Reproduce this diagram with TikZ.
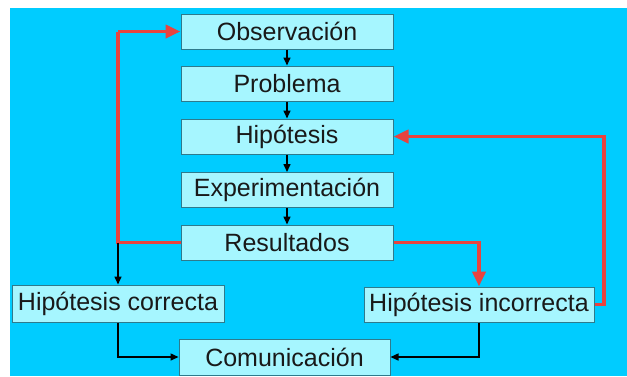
\documentclass[tikz,border=0pt]{standalone}
\usepackage{fontspec}
\setmainfont{Liberation Sans}
\usetikzlibrary{arrows.meta}
\definecolor{bg}{HTML}{00CCFF}
\definecolor{boxfill}{HTML}{A6F6FF}
\definecolor{boxline}{HTML}{2E7A8C}
\definecolor{redline}{HTML}{E8433F}
\begin{document}
\begin{tikzpicture}[x=1pt,y=-1pt,
  stepbox/.style={draw=boxline, line width=1pt, fill=boxfill, minimum width=212pt, minimum height=35pt, inner sep=0pt, font=\fontsize{25}{28}\selectfont, text=black!90},
  blk/.style={line width=1.5pt, draw=black, -{Triangle[length=8pt,width=7pt]}},
  redarrow/.style={line width=3.8pt, draw=redline, -{Triangle[length=15pt,width=13pt]}},
  redpath/.style={line width=3.8pt, draw=redline}]
\useasboundingbox (0,0) rectangle (627,376);
\fill[white] (0,0) rectangle (627,376);
\fill[bg] (10,8) rectangle (627,376);
\node[stepbox] (obs) at (287,31.5) {Observación};
\node[stepbox] (prob) at (287,83.5) {Problema};
\node[stepbox] (hip) at (287,136.5) {Hipótesis};
\node[stepbox] (exp) at (287,190) {Experimentación};
\node[stepbox] (res) at (287,242.5) {Resultados};
\node[stepbox, minimum height=37pt] (hc) at (118,303.5) {Hipótesis correcta};
\node[stepbox, minimum width=230pt] (hi) at (479,304.5) {Hipótesis incorrecta};
\node[stepbox, minimum width=211pt, minimum height=36pt] (com) at (284.5,357) {Comunicación};
\coordinate (L) at (118,31.5);
\coordinate (R) at (604,304.5);
\draw[blk] (obs.south) -- (prob.north);
\draw[blk] (prob.south) -- (hip.north);
\draw[blk] (hip.south) -- (exp.north);
\draw[blk] (exp.south) -- (res.north);
\draw[redpath, line cap=butt] (res.west) -| (L);
\draw[redarrow] (L) -- (obs.west);
\draw[blk] (res.west -| hc.north) -- (hc.north);
\draw[redarrow] (res.east) -| (hi.north);
\draw[redarrow] (hi.east) -- (R) |- (hip.east);
\draw[blk] (hc.south) |- (com.west);
\draw[blk] (hi.south) |- (com.east);
\end{tikzpicture}
\end{document}
